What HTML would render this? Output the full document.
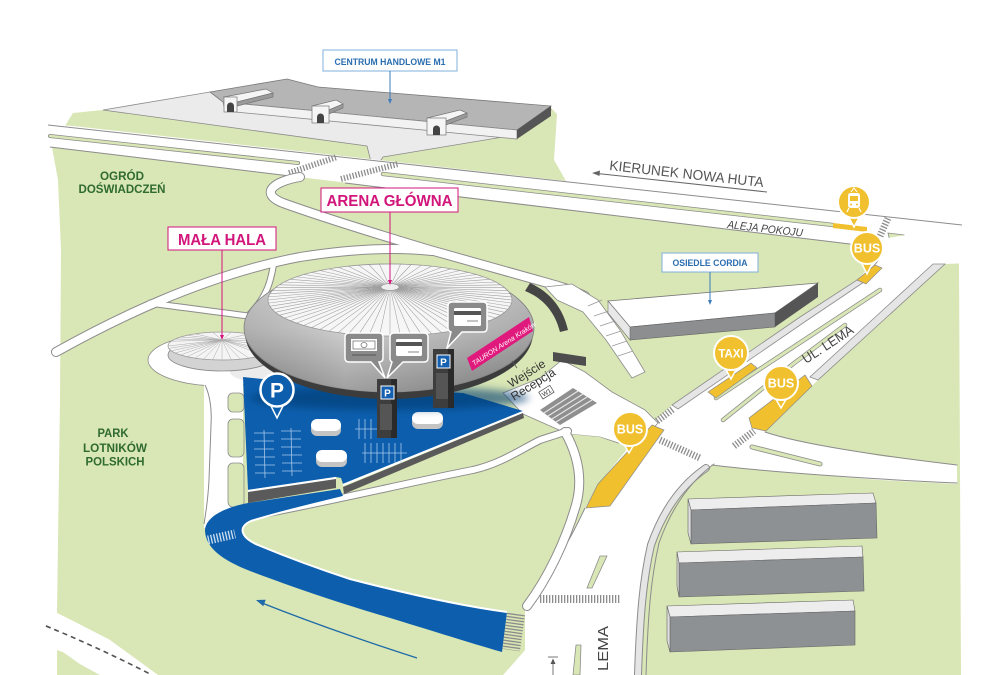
<!DOCTYPE html>
<html><head><meta charset="utf-8">
<style>
html,body{margin:0;padding:0;background:#fff;}
svg{display:block;}
text{font-family:"Liberation Sans",sans-serif;}
</style></head><body>
<svg width="1000" height="675" viewBox="0 0 1000 675" xmlns="http://www.w3.org/2000/svg">
<defs>
<linearGradient id="ag" x1="0" y1="0" x2="0" y2="1">
<stop offset="0" stop-color="#e4e4e4"/><stop offset="0.5" stop-color="#c9c9c9"/><stop offset="1" stop-color="#8e8e8e"/>
</linearGradient>
<linearGradient id="ah" x1="0" y1="0" x2="1" y2="0">
<stop offset="0" stop-color="#000" stop-opacity="0.12"/><stop offset="0.35" stop-color="#fff" stop-opacity="0.15"/><stop offset="1" stop-color="#000" stop-opacity="0.15"/>
</linearGradient>
<filter id="bl" x="-20%" y="-50%" width="140%" height="200%"><feGaussianBlur stdDeviation="4"/></filter>
</defs>

<!-- green base -->
<polygon fill="#d9e6b5" points="73,113 103,110 210,94 287,82 318,90 500,104 551,108 557,114 554,160 566,181 850,216 880,246 935,263 959,263 961,675 57,675 57,612 60,400 61,250 58,180 52,147"/>

<!-- bottom-left white road -->
<polygon fill="#fff" points="57,613 75,622 110,640 158,675 100,675 80,664 63,652 57,650"/>
<path d="M46,626 C80,640 115,656 152,675" fill="none" stroke="#555" stroke-width="1.6" stroke-dasharray="5 4"/>

<!-- M1 lot and building -->
<polygon points="103,110 210,92 551,110 520,133 497,138 383,157 379,163 371,162 367,146" fill="#ebebeb" stroke="#8c8c8c" stroke-width="0.8"/>
<polygon points="210,92 287,79 318,87 551,106 517,130 223,102" fill="#b5b5b5" stroke="#777" stroke-width="0.8"/>
<polygon points="223,102 517,130 517,139 225,111" fill="#f2f2f2" stroke="#888" stroke-width="0.8"/>
<polygon points="551,106 551,116 517,139 517,130" fill="#555"/>
<g stroke="#777" stroke-width="0.7">
<polygon points="224,97 266,89 273,93 237,102" fill="#f5f5f5"/>
<polygon points="237,102 273,93 273,97 237,106" fill="#9a9a9a"/>
<rect x="224" y="97" width="13" height="15" fill="#f5f5f5"/>
<polygon points="312,106 336,100 343,104 329,110" fill="#f5f5f5"/>
<polygon points="329,110 343,104 343,108 329,114" fill="#9a9a9a"/>
<rect x="312" y="106" width="17" height="17" fill="#f5f5f5"/>
<polygon points="427,118 460,110 467,113 446,121" fill="#f5f5f5"/>
<polygon points="446,121 467,113 467,117 446,125" fill="#9a9a9a"/>
<rect x="427" y="118" width="19" height="17" fill="#f5f5f5"/>
</g>
<path d="M227,112 v-6 a3.5,3.5 0 0 1 7,0 v6z" fill="#444"/>
<path d="M317,123 v-6 a3.5,3.5 0 0 1 7,0 v6z" fill="#444"/>
<path d="M433,135 v-6 a3.5,3.5 0 0 1 7,0 v6z" fill="#444"/>

<!-- Aleja Pokoju -->
<polygon fill="#fff" points="42,124 73,126 962,225 1000,229 1000,262 958,262 878,252 850,244 52,147 42,146"/>
<path d="M48,125 L962,225" stroke="#8c8c8c" stroke-width="1" fill="none"/>
<path d="M50,147 L290,176 M345,183 L850,244 C865,247 875,250 878,252" stroke="#8c8c8c" stroke-width="1" fill="none"/>
<path d="M50,136 L298,163" stroke="#8c8c8c" stroke-width="4" stroke-linecap="round" fill="none"/>
<path d="M50,136 L298,163" stroke="#d9e6b5" stroke-width="2.4" stroke-linecap="round" fill="none"/>
<path d="M383,174 L833,225" stroke="#8c8c8c" stroke-width="4.4" stroke-linecap="round" fill="none"/>
<path d="M383,174 L833,225" stroke="#d9e6b5" stroke-width="2.8" stroke-linecap="round" fill="none"/>
<polygon points="833,223 867,227 867,232 833,228" fill="#f0c02f"/>
<polygon points="888,233 904,235 906,243 890,242" fill="#d9e6b5" stroke="#8c8c8c" stroke-width="0.8"/>
<g stroke="#8c8c8c" stroke-dasharray="1.3 1.7" fill="none">
<line x1="289" y1="173" x2="337" y2="157" stroke-width="6"/>
<line x1="341" y1="179" x2="398" y2="164" stroke-width="6"/>
<line x1="880" y1="236" x2="888" y2="218" stroke-width="7"/>
<line x1="884" y1="270" x2="922" y2="264" stroke-width="8"/>
</g>

<!-- roads with outlines -->
<g fill="none" stroke-linecap="round" stroke-linejoin="round">
<path d="M56,352 C110,322 200,276 300,257 C350,249 395,247 432,251" stroke="#8c8c8c" stroke-width="10"/>
<path d="M150,303 C185,308 220,312 248,316 M274,262 C271,280 268,295 250,314" stroke="#8c8c8c" stroke-width="7"/>
<path d="M300,177 C275,181 258,193 283,203 C330,220 390,238 430,250 L537,280 C555,285 570,289 585,296" stroke="#8c8c8c" stroke-width="10"/>
<path d="M56,352 C110,322 200,276 300,257 C350,249 395,247 432,251" stroke="#fff" stroke-width="8"/>
<path d="M150,303 C185,308 220,312 248,316 M274,262 C271,280 268,295 250,314" stroke="#fff" stroke-width="5"/>
<path d="M300,177 C275,181 258,193 283,203 C330,220 390,238 430,250 L537,280 C555,285 570,289 585,296" stroke="#fff" stroke-width="8"/>
</g>

<!-- Lema -->
<polygon fill="#fff" points="850,244 962,226 1000,230 1000,262 945,264 818,380 765,432 800,441 880,456 957,465 957,484 880,480 790,473 712,465 688,481 667,508 650,545 642,600 638,675 503,675 525,650 525,606 545,583 565,545 585,508 600,482 628,448 650,425 672,405 800,317 857,280 874,262 878,252"/>
<polygon points="933,264 945,264 818,380 810,377" fill="#e5e5e5" stroke="#8c8c8c" stroke-width="0.8"/>
<polygon points="857,280 864,282 806,321 678,409 672,405 800,317" fill="#e5e5e5" stroke="#8c8c8c" stroke-width="0.8"/>
<path d="M878,252 C882,258 877,265 857,280" stroke="#8c8c8c" fill="none"/>
<g fill="none" stroke-linecap="round">
<path d="M716,398 L760,369 L880,290" stroke="#8c8c8c" stroke-width="4.5"/>
<path d="M716,398 L760,369 L880,290" stroke="#d9e6b5" stroke-width="3"/>
<path d="M723,420 L793,364 L845,325" stroke="#8c8c8c" stroke-width="4.5"/>
<path d="M723,420 L793,364 L845,325" stroke="#d9e6b5" stroke-width="3"/>
<path d="M752,447 C780,454 800,459 820,464" stroke="#8c8c8c" stroke-width="5"/>
<path d="M752,447 C780,454 800,459 820,464" stroke="#d9e6b5" stroke-width="3.4"/>
<path d="M765,432 C800,444 880,456 957,465" stroke="#8c8c8c" stroke-width="1"/>
<path d="M712,465 C760,471 850,478 957,483" stroke="#8c8c8c" stroke-width="1"/>
<path d="M706,468 C684,483 664,508 651,545 C643,580 640,615 638,675" stroke="#8c8c8c" stroke-width="8"/>
<path d="M706,468 C684,483 664,508 651,545 C643,580 640,615 638,675" stroke="#e5e5e5" stroke-width="6"/>
<path d="M714,464 C692,480 672,506 659,543 C651,578 648,613 646,675" stroke="#8c8c8c" stroke-width="1"/>
</g>
<polygon points="600,556 607,556 592,588 587,588" fill="#d9e6b5" stroke="#8c8c8c" stroke-width="0.8"/>
<polygon points="576,645 581,645 580,675 573,675" fill="#d9e6b5" stroke="#8c8c8c" stroke-width="0.8"/>

<!-- plaza / ramp -->
<polygon points="503,393 540,378 562,360 585,372 612,392 645,410 658,423 650,432 628,446 600,437 568,434 523,414" fill="#fff" stroke="#8c8c8c" stroke-width="0.8"/>
<polygon points="545,287 572,284 598,300 620,330 645,372 632,378 606,340 583,312 557,300" fill="#fff" stroke="#8c8c8c" stroke-width="0.8"/>
<g stroke="#999" stroke-width="0.8">
<line x1="588" y1="306" x2="602" y2="300"/><line x1="594" y1="316" x2="609" y2="311"/><line x1="600" y1="326" x2="615" y2="321"/>
<line x1="606" y1="336" x2="621" y2="331"/><line x1="612" y1="346" x2="627" y2="341"/><line x1="618" y1="356" x2="633" y2="351"/>
</g>
<path d="M530,283 C550,292 563,308 568,330 L560,332 C555,312 543,298 525,291 Z" fill="#454545"/>
<polygon points="553,352 586,357 586,366 553,361" fill="#4d4d4d"/>
<polygon points="540,410 573,388 597,403 560,425" fill="#8f8f8f"/>
<g stroke="#e6e6e6" stroke-width="1.2">
<line x1="544" y1="413" x2="578" y2="391"/><line x1="548" y1="416" x2="583" y2="394"/><line x1="552" y1="419" x2="587" y2="397"/><line x1="556" y1="422" x2="592" y2="400"/>
</g>

<!-- green patch (island + area below blue road) -->
<polygon fill="#d9e6b5" points="205,505 343,490 523,418 568,434 600,437 628,448 600,482 585,508 565,545 545,583 525,606 525,650 503,675 158,675 120,650 63,652 75,640 110,640 158,660 200,560 204,528"/>
<polygon fill="#fff" points="57,613 75,622 110,640 158,675 100,675 80,664 63,652 57,650"/>
<path d="M46,626 C80,640 115,656 152,675" fill="none" stroke="#555" stroke-width="1.6" stroke-dasharray="5 4"/>
<path d="M585,508 C570,540 552,572 527,603" stroke="#8c8c8c" stroke-width="1" fill="none"/>

<!-- small paths E, F -->
<g fill="none" stroke-linecap="round">
<path d="M242,518 C320,504 420,480 473,470 C500,464 520,450 540,440 L568,431" stroke="#8c8c8c" stroke-width="8"/>
<path d="M565,432 C578,455 583,480 576,505 C566,540 548,578 527,606" stroke="#8c8c8c" stroke-width="10"/>
<path d="M242,518 C320,504 420,480 473,470 C500,464 520,450 540,440 L568,431" stroke="#fff" stroke-width="6"/>
<path d="M565,432 C578,455 583,480 576,505 C566,540 548,578 527,606" stroke="#fff" stroke-width="8"/>
</g>

<g stroke="#8c8c8c" stroke-dasharray="1.3 1.7" fill="none">
<line x1="657" y1="421" x2="673" y2="409" stroke-width="7"/>
<line x1="660" y1="440" x2="700" y2="458" stroke-width="7"/>
<line x1="734" y1="446" x2="754" y2="431" stroke-width="7"/>
<line x1="540" y1="599" x2="620" y2="599" stroke-width="8"/>
</g>

<!-- mała hala plinth and west road -->
<ellipse cx="220" cy="360" rx="72" ry="26" fill="#fff" stroke="#8c8c8c" stroke-width="0.8"/>
<ellipse cx="300" cy="372" rx="70" ry="14" fill="#ececec"/>
<polygon points="204,382 243,382 243,520 204,528" fill="#fff"/>
<path d="M205,385 C210,395 212,410 211,425 L209,480 C208,500 206,512 204,524" stroke="#8c8c8c" fill="none"/>
<g fill="#d9e6b5" stroke="#8c8c8c" stroke-width="0.8">
<rect x="228" y="393" width="16" height="19" rx="5"/>
<rect x="228" y="419" width="16" height="38" rx="5"/>
<rect x="228" y="463" width="16" height="44" rx="5"/>
</g>

<!-- parking -->
<polygon points="243,377 330,386 463,393 523,411 343,484 341,478 336,477 248,490" fill="#0d5fae"/>
<path d="M248,491 L336,478 M343,485 L523,412" stroke="#fff" stroke-width="2.2" fill="none"/>
<polygon points="248,492 336,479 336,488 248,503" fill="#5a5a5a"/>
<polygon points="343,487 523,413 524,418 344,494" fill="#5a5a5a"/>
<path d="M340,489 L248,503 C222,508 205,518 205,531 C206,548 222,560 250,571 C290,586 330,600 380,615 C430,630 470,643 502,652 L507,612 C455,605 400,592 350,579 C310,566 282,555 258,545 C240,537 238,527 251,521 C280,512 318,503 343,496 Z" fill="#0d5fae"/>
<path d="M343,497 C318,503 280,512 251,521 C238,527 240,537 258,545 C282,555 310,566 350,579 C400,592 455,605 507,612" fill="none" stroke="#fff" stroke-width="2"/>
<line x1="208" y1="540" x2="235" y2="534" stroke="#fff" stroke-width="9" stroke-dasharray="1.3 1.7" opacity="0.8"/>
<line x1="516" y1="614" x2="511" y2="650" stroke="#8c8c8c" stroke-width="18" stroke-dasharray="1.3 1.7"/>
<path d="M417,658 Q330,630 262,603" fill="none" stroke="#1e6aa8" stroke-width="1.3"/>
<polygon points="256,600 265.7,599.7 263.3,606.3" fill="#1e6aa8"/>

<!-- parking grid lines -->
<g stroke="#b9d3f0" stroke-width="0.8" opacity="0.9" fill="none">
<line x1="264" y1="430" x2="265" y2="478"/><line x1="291" y1="428" x2="292" y2="476"/>
<path d="M254,433 h20 M254,441 h20 M254,449 h20 M255,457 h20 M255,465 h20 M255,473 h20"/>
<path d="M281,431 h20 M281,439 h20 M281,447 h20 M282,455 h20 M282,463 h20 M282,471 h20"/>
<path d="M355,429 h22 M359,419 v20 M365,419 v20 M371,419 v20"/>
<path d="M362,453 h45 M365,443 v20 M371,443 v20 M377,443 v20 M383,443 v20 M389,443 v20 M395,443 v20 M401,443 v20"/>
</g>
<g>
<rect x="311" y="421" width="30" height="15" rx="6" fill="#c4c4c4"/><rect x="311" y="419" width="30" height="12" rx="6" fill="#fff"/>
<rect x="316" y="452" width="31" height="15" rx="6" fill="#c4c4c4"/><rect x="316" y="450" width="31" height="12" rx="6" fill="#fff"/>
<rect x="412" y="414" width="31" height="15" rx="6" fill="#c4c4c4"/><rect x="412" y="412" width="31" height="12" rx="6" fill="#fff"/>
</g>

<!-- mała hala dome -->
<ellipse cx="222" cy="355" rx="54" ry="16" fill="#d3d3d3" stroke="#888" stroke-width="0.8"/>
<ellipse cx="222" cy="346" rx="54" ry="14" fill="#f4f4f4" stroke="#999" stroke-width="0.8"/>
<g stroke="#aaa" stroke-width="0.5" fill="none">
<path d="M222,340 L276,346 M222,340 L272.7,350.8 M222,340 L263.4,355 M222,340 L249,358.1 M222,340 L231.4,359.8 M222,340 L212.6,359.8 M222,340 L195,358.1 M222,340 L180.6,355 M222,340 L171.3,350.8 M222,340 L168,346 M222,340 L171.3,341.2 M222,340 L180.6,337 M222,340 L195,333.9 M222,340 L212.6,332.2 M222,340 L231.4,332.2 M222,340 L249,333.9 M222,340 L263.4,337 M222,340 L272.7,341.2"/>
<path d="M222,340 L268.8,353 M222,340 L240.5,359.2 M222,340 L222,360 M222,340 L203.5,359.2 M222,340 L187.3,356.7 M222,340 L175.2,353 M222,340 L168.8,348.4 M222,340 L175.2,339 M222,340 L187.3,335.3"/>
</g>

<!-- arena -->
<ellipse cx="389" cy="398" rx="140" ry="12" fill="#053a70" opacity="0.6" filter="url(#bl)"/>
<ellipse cx="389" cy="333" rx="144" ry="66" fill="#3c3c3c"/>
<ellipse cx="389" cy="328" rx="145" ry="64" fill="url(#ag)" stroke="#8a8a8a" stroke-width="0.8"/>
<ellipse cx="389" cy="328" rx="145" ry="64" fill="url(#ah)"/>
<ellipse cx="390" cy="300" rx="122" ry="36" fill="#f6f6f6" stroke="#9a9a9a" stroke-width="0.8"/>
<g stroke="#9e9e9e" stroke-width="0.55" fill="none">
<path d="M390,287 L512,300 M390,287 L510.2,306.3 M390,287 L504.6,312.3 M390,287 L495.7,318 M390,287 L483.5,323.1 M390,287 L468.4,327.6 M390,287 L451,331.2 M390,287 L431.7,333.8 M390,287 L411.2,335.5 M390,287 L390,336 M390,287 L368.8,335.5 M390,287 L348.3,333.8 M390,287 L329,331.2 M390,287 L311.6,327.6 M390,287 L296.5,323.1 M390,287 L284.3,318 M390,287 L275.4,312.3 M390,287 L269.8,306.3 M390,287 L268,300 M390,287 L269.8,293.7 M390,287 L275.4,287.7 M390,287 L284.3,282 M390,287 L296.5,276.9 M390,287 L311.6,272.4 M390,287 L329,268.8 M390,287 L348.3,266.2 M390,287 L368.8,264.5 M390,287 L390,264 M390,287 L411.2,264.5 M390,287 L431.7,266.2 M390,287 L451,268.8 M390,287 L468.4,272.4 M390,287 L483.5,276.9 M390,287 L495.7,282 M390,287 L504.6,287.7 M390,287 L510.2,293.7"/>
<path d="M390,287 L511.5,303.1 M390,287 L507.8,309.3 M390,287 L500.5,315.2 M390,287 L489.9,320.7 M390,287 L476.3,325.5 M390,287 L460,329.5 M390,287 L441.6,332.6 M390,287 L421.6,334.8 M390,287 L400.6,335.9 M390,287 L379.4,335.9 M390,287 L358.4,334.8 M390,287 L338.4,332.6 M390,287 L320,329.5 M390,287 L303.7,325.5 M390,287 L290.1,320.7 M390,287 L279.5,315.2 M390,287 L272.2,309.3 M390,287 L268.5,303.1 M390,287 L268.5,296.9 M390,287 L272.2,290.7 M390,287 L279.5,284.8 M390,287 L290.1,279.3 M390,287 L303.7,274.5 M390,287 L320,270.5 M390,287 L338.4,267.4 M390,287 L358.4,265.2 M390,287 L379.4,264.1 M390,287 L400.6,264.1 M390,287 L421.6,265.2 M390,287 L441.6,267.4 M390,287 L460,270.5 M390,287 L476.3,274.5 M390,287 L489.9,279.3 M390,287 L500.5,284.8 M390,287 L507.8,290.7 M390,287 L511.5,296.9"/>
</g>
<ellipse cx="390" cy="287" rx="9" ry="3.5" fill="#eee" stroke="#999" stroke-width="0.7"/>
<polygon points="467,358 529,317 533,331 472,371" fill="#e0197d"/>
<text transform="translate(474,366) rotate(-33)" font-size="7" font-style="italic" fill="#fff">TAURON Arena Kraków</text>

<!-- Wejście -->
<line x1="512" y1="361" x2="517" y2="368" stroke="#555" stroke-width="0.8"/>
<text transform="translate(511,388) rotate(-32)" font-size="12" fill="#333">Wejście</text>
<text transform="translate(514,401) rotate(-32)" font-size="12" fill="#333">Recepcja</text>
<g transform="translate(543,399) rotate(-32)"><rect x="0" y="-8" width="13" height="8" fill="none" stroke="#444" stroke-width="0.7"/><text x="6.5" y="-1.5" font-size="6.5" fill="#333" text-anchor="middle">W1</text></g>

<!-- buildings -->
<polygon points="608,301 818,283 775,313 630,327" fill="#fff" stroke="#777" stroke-width="0.8"/>
<polygon points="630,327 775,313 775,327 630,340" fill="#8c8e90" stroke="#666" stroke-width="0.6"/>
<polygon points="775,313 818,283 818,297 775,327" fill="#555"/>
<polygon points="608,301 630,327 630,340 608,313" fill="#e8e8e8" stroke="#777" stroke-width="0.6"/>
<g stroke="#666" stroke-width="0.6">
<polygon points="688,499 873,493 876,503 691,510" fill="#ededed"/>
<polygon points="691,510 876,503 877,538 691,544" fill="#8e9194"/>
<polygon points="688,499 691,510 691,544 688,533" fill="#ddd"/>
<polygon points="677,552 862,546 863,557 679,563" fill="#ededed"/>
<polygon points="679,563 863,557 864,591 679,597" fill="#8e9194"/>
<polygon points="677,552 679,563 679,597 677,586" fill="#ddd"/>
<polygon points="667,606 853,600 855,611 670,617" fill="#ededed"/>
<polygon points="670,617 855,611 855,645 670,652" fill="#8e9194"/>
<polygon points="667,606 670,617 670,652 667,641" fill="#ddd"/>
</g>

<!-- yellow bays -->
<g fill="#f0c02f" stroke="#8c8c8c" stroke-width="0.7">
<polygon points="857,280 875,265 882,268 866,284"/>
<polygon points="708,392 751,363 757,368 716,398"/>
<polygon points="805,375 812,386 766,431 752,428 749,418"/>
<polygon points="652,425 664,430 610,506 586,508 598,484"/>
</g>

<!-- pins -->
<g stroke="#fff" fill="#f0c02f">
<polygon points="847,214 861,214 854,227" stroke-width="1.5"/><circle cx="854" cy="202" r="16" stroke-width="2"/>
<polygon points="860,260 874,260 867,274" stroke-width="1.5"/><circle cx="867" cy="248" r="16" stroke-width="2"/>
<polygon points="724,366 738,366 731,379" stroke-width="1.5"/><circle cx="731" cy="353" r="17" stroke-width="2"/>
<polygon points="774,396 788,396 781,408" stroke-width="1.5"/><circle cx="781" cy="383" r="17" stroke-width="2"/>
<polygon points="622,441 636,441 629,453" stroke-width="1.5"/><circle cx="630" cy="429" r="17" stroke-width="2"/>
</g>
<g fill="#fff">
<path d="M851,192 L854,188 L857,192" stroke="#fff" stroke-width="1" fill="none"/>
<rect x="848" y="193" width="12" height="15" rx="2.5"/>
<rect x="850" y="196" width="8" height="5" fill="#f0c02f"/>
<circle cx="851" cy="204.5" r="1" fill="#f0c02f"/><circle cx="857" cy="204.5" r="1" fill="#f0c02f"/>
<path d="M849,208 L847,212 M859,208 L861,212" stroke="#fff" stroke-width="1.2" fill="none"/>
</g>
<g font-weight="bold" fill="#fff" text-anchor="middle">
<text x="867" y="252.5" font-size="12.5">BUS</text>
<text x="731" y="357.5" font-size="11.5">TAXI</text>
<text x="781" y="387.5" font-size="12.5">BUS</text>
<text x="630" y="433.5" font-size="12.5">BUS</text>
</g>

<!-- bubbles & machines -->
<g fill="#8a8a8a" stroke="#fff" stroke-width="1.5">
<path d="M349,333 H379 Q383,333 383,337 V358 Q383,362 379,362 L385,378 L371,362 H349 Q345,362 345,358 V337 Q345,333 349,333 Z"/>
<path d="M394,333 H424 Q428,333 428,337 V358 Q428,362 424,362 H403 L387,378 L392,362 Q390,361 390,358 V337 Q390,333 394,333 Z"/>
<path d="M452,302 H483 Q487,302 487,306 V328 Q487,332 483,332 H462 L447,348 L451,332 Q448,331 448,328 V306 Q448,302 452,302 Z"/>
</g>
<rect x="351" y="339" width="26" height="12" fill="#fff"/>
<rect x="353" y="341" width="22" height="8" fill="none" stroke="#777" stroke-width="0.8"/>
<ellipse cx="364" cy="345" rx="3" ry="2.5" fill="none" stroke="#777" stroke-width="0.8"/>
<line x1="352" y1="355" x2="376" y2="355" stroke="#555" stroke-width="1"/>
<rect x="396" y="339" width="26" height="17" rx="1.5" fill="#fff"/><rect x="396" y="342" width="26" height="4" fill="#555"/><line x1="408" y1="352" x2="419" y2="352" stroke="#888"/>
<rect x="454" y="308" width="27" height="18" rx="1.5" fill="#fff"/><rect x="454" y="311" width="27" height="4" fill="#555"/><line x1="467" y1="321" x2="478" y2="321" stroke="#888"/>
<rect x="377" y="379" width="20" height="59" fill="#3d3d3d"/><rect x="391" y="379" width="6" height="59" fill="#2a2a2a"/>
<rect x="381" y="386" width="13" height="13" fill="#1560b0" stroke="#fff" stroke-width="1"/>
<rect x="380" y="404" width="12" height="26" fill="#555"/>
<rect x="433" y="349" width="21" height="59" fill="#3d3d3d"/><rect x="448" y="349" width="6" height="59" fill="#2a2a2a"/>
<rect x="437" y="355" width="13" height="13" fill="#1560b0" stroke="#fff" stroke-width="1"/>
<rect x="436" y="373" width="12" height="26" fill="#555"/>
<g font-weight="bold" fill="#fff" text-anchor="middle" font-size="10">
<text x="387.5" y="396.5">P</text><text x="443.5" y="365.5">P</text>
</g>
<polygon points="270,404 284,404 277,418" fill="#0d5fae" stroke="#fff" stroke-width="1.5"/>
<circle cx="277" cy="390" r="16.5" fill="#0d5fae" stroke="#fff" stroke-width="2.5"/>
<text x="277" y="397.5" font-size="21" font-weight="bold" fill="#fff" text-anchor="middle">P</text>

<!-- labels -->
<rect x="323" y="50" width="134" height="21" fill="#fff" stroke="#7fb0dc" stroke-width="1"/>
<text x="390" y="65" font-size="9.5" font-weight="bold" fill="#2a6db0" text-anchor="middle" textLength="111" lengthAdjust="spacingAndGlyphs">CENTRUM HANDLOWE M1</text>
<line x1="390" y1="71" x2="390" y2="100" stroke="#3d7cbb" stroke-width="1"/>
<polygon points="388,99 392,99 390,104" fill="#3d7cbb"/>

<rect x="662" y="253" width="96" height="19" fill="#fff" stroke="#7fb0dc" stroke-width="1"/>
<text x="710" y="266" font-size="9.5" font-weight="bold" fill="#2a6db0" text-anchor="middle" textLength="75" lengthAdjust="spacingAndGlyphs">OSIEDLE CORDIA</text>
<line x1="710" y1="272" x2="710" y2="301" stroke="#3d7cbb" stroke-width="1"/>
<polygon points="708,300 712,300 710,305" fill="#3d7cbb"/>

<rect x="321" y="188" width="137" height="24" fill="#fff" stroke="#d2157b" stroke-width="1"/>
<text x="389.5" y="206" font-size="15.5" font-weight="bold" fill="#d2157b" text-anchor="middle" textLength="126" lengthAdjust="spacingAndGlyphs">ARENA GŁÓWNA</text>
<line x1="390" y1="212" x2="390" y2="281" stroke="#d2157b" stroke-width="1"/>
<polygon points="388,280 392,280 390,285" fill="#d2157b"/>

<rect x="168" y="227" width="108" height="23" fill="#fff" stroke="#d2157b" stroke-width="1"/>
<text x="222" y="245" font-size="15.5" font-weight="bold" fill="#d2157b" text-anchor="middle" textLength="88" lengthAdjust="spacingAndGlyphs">MAŁA HALA</text>
<line x1="222" y1="250" x2="222" y2="336" stroke="#d2157b" stroke-width="1"/>
<polygon points="220,335 224,335 222,340" fill="#d2157b"/>

<g font-weight="bold" fill="#2f6b2f" text-anchor="middle" font-size="12">
<text x="122" y="180" textLength="44" lengthAdjust="spacingAndGlyphs">OGRÓD</text>
<text x="122" y="193" textLength="87" lengthAdjust="spacingAndGlyphs">DOŚWIADCZEŃ</text>
<text x="113" y="437" textLength="31" lengthAdjust="spacingAndGlyphs">PARK</text>
<text x="115" y="452" textLength="64" lengthAdjust="spacingAndGlyphs">LOTNIKÓW</text>
<text x="115" y="465.5" textLength="59" lengthAdjust="spacingAndGlyphs">POLSKICH</text>
</g>

<line x1="595" y1="173.2" x2="767" y2="192" stroke="#666" stroke-width="1"/>
<polygon points="592,173 600,170.5 599.5,176" fill="#666"/>
<text transform="translate(609,170) rotate(6.3)" font-size="14" fill="#555" textLength="155" lengthAdjust="spacingAndGlyphs">KIERUNEK NOWA HUTA</text>
<text transform="translate(727,228) rotate(6.5)" font-size="11" font-style="italic" fill="#444" textLength="76" lengthAdjust="spacingAndGlyphs">ALEJA POKOJU</text>
<text transform="translate(806,364) rotate(-33)" font-size="13.5" fill="#444" textLength="58" lengthAdjust="spacingAndGlyphs">UL. LEMA</text>
<text transform="translate(608,671) rotate(-90)" font-size="15" fill="#444" textLength="45" lengthAdjust="spacingAndGlyphs">LEMA</text>

<line x1="548" y1="657" x2="558" y2="657" stroke="#555" stroke-width="0.8"/>
<line x1="553" y1="660" x2="553" y2="675" stroke="#555" stroke-width="0.8"/>
<polygon points="550.5,664 555.5,664 553,658.5" fill="#555"/>
</svg>
</body></html>
